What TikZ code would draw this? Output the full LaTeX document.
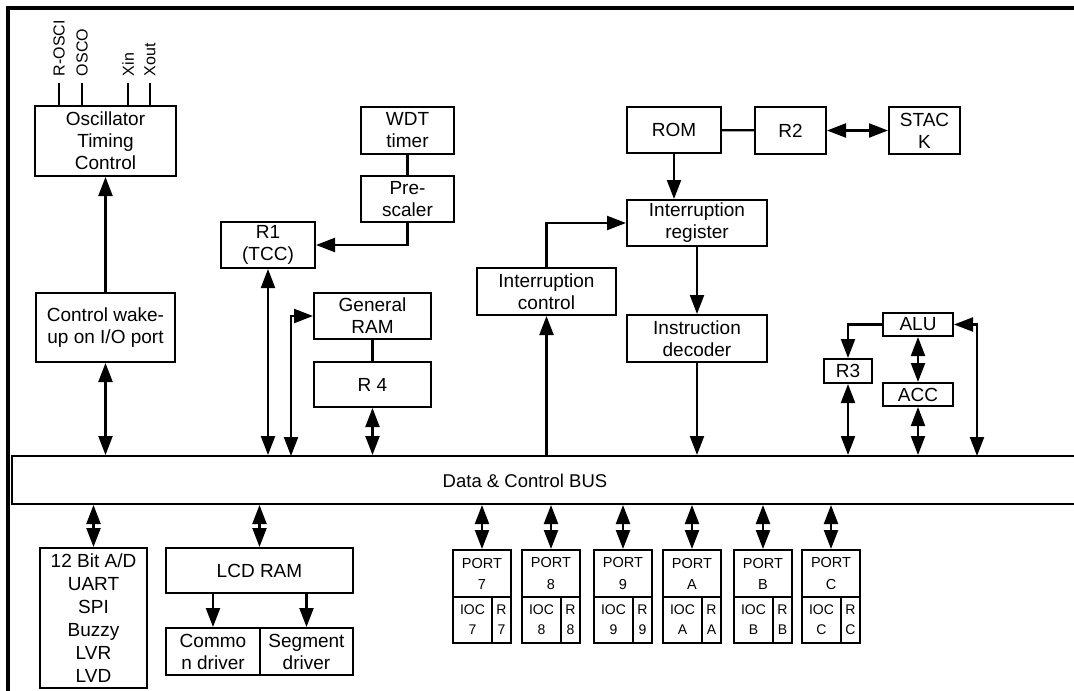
\documentclass[tikz,border=0pt]{standalone}
\usepackage{fontspec}
\setmainfont{Liberation Sans}
\usetikzlibrary{arrows.meta,positioning}
\tikzset{
  >={Triangle[length=19pt,width=14pt]},
  blk/.style={draw,line width=2pt,inner sep=0pt,align=center,
    font=\fontsize{19}{22}\selectfont},
  sz/.style 2 args={minimum width=#1pt,minimum height=#2pt},
  prt/.style={blk,font=\fontsize{14.5}{21}\selectfont},
  ioc/.style={blk,font=\fontsize{14}{20}\selectfont},
  pinlbl/.style={rotate=90,anchor=west,inner sep=0pt,outer sep=7pt,
    font=\fontsize{16}{18}\selectfont},
  flow/.style={line width=2.2pt},
  frame/.style={line width=3.5pt},
}
\begin{document}
\begin{tikzpicture}[x=1pt,y=-1pt]
  \useasboundingbox (0,0) rectangle (1074,691);
  \draw[frame] (1080,8) -- (8,8) -- (8,700);
  % clock side
  \node[blk,sz={141}{70}] (osc) at (105.5,141) {Oscillator\\Timing\\Control};
  \foreach \px/\nm/\txt in {59/rosci/R-OSCI,82/osco/OSCO,128/xin/Xin,150/xout/Xout}{
    \node[pinlbl] (\nm) at (\px,83) {\txt};
    \draw[flow] (osc.north -| \nm.west) -- (\nm.west);
  }
  \node[blk,sz={139}{69}] (wake) at (105.5,327.5) {Control wake-\\up on I/O port};
  % timer, RAM
  \node[blk,sz={93}{47}] (wdt) at (407.5,130.5) {WDT\\timer};
  \node[blk,sz={93}{46}] (pre) at (407.5,199) {Pre-\\scaler};
  \node[blk,sz={94}{46}] (r1) at (268,245) {R1\\(TCC)};
  \node[blk,sz={117}{46}] (gram) at (372.5,316) {General\\RAM};
  \node[blk,sz={117}{45}] (r4) at (372.5,384.5) {R 4};
  % program side
  \node[blk,sz={139}{47}] (ictl) at (546.5,291.5) {Interruption\\control};
  \node[blk,sz={94}{46}] (rom) at (674,130) {ROM};
  \node[blk,sz={71}{47}] (r2) at (790.5,130.5) {R2};
  \node[blk,sz={71}{47}] (stack) at (924.5,130.5) {STAC\\K};
  \node[blk,sz={140}{46}] (ireg) at (697,223) {Interruption\\register};
  \node[blk,sz={140}{47}] (idec) at (697,338.5) {Instruction\\decoder};
  \node[blk,sz={70}{23}] (alu) at (918,324.5) {ALU};
  \node[blk,sz={48}{24}] (r3) at (848,371) {R3};
  \node[blk,sz={70}{23}] (acc) at (918,394.5) {ACC};
  % bus
  \node[blk,sz={1073}{48}] (bus) at (548.5,480) {};
  \node[font=\fontsize{18.5}{20}\selectfont] (buslbl) at (525,481) {Data \& Control BUS};
  % peripherals
  \node[blk,sz={107}{140},font=\fontsize{19}{23}\selectfont] (ad) at (93.5,618)
    {12 Bit A/D\\UART\\SPI\\Buzzy\\LVR\\LVD};
  \node[blk,sz={187}{45}] (lcd) at (259.5,570.5) {LCD RAM};
  \node[blk,sz={94}{47}] (com) at (213,651.5) {Commo\\n driver};
  \node[blk,sz={93}{47}] (seg) at (306.5,651.5) {Segment\\driver};
  \foreach \lx/\p in {453/7,522/8,594/9,663/A,734/B,802/C}{
    \node[prt,sz={58}{47}] (port\p) at (\lx+29,573.5) {PORT\\\p};
    \node[ioc,sz={39}{46}] (ioc\p) at (\lx+19.5,620) {IOC\\\p};
    \node[ioc,sz={19}{46}] (rr\p) at (\lx+48.5,620) {R\\\p};
    \draw[flow,<->] (bus.south -| port\p) -- (port\p.north);
  }
  % connectors
  \draw[flow,->] (wake) -- (osc);
  \draw[flow,<->] (wake) -- (wake |- bus.north);
  \draw[flow] (wdt) -- (pre);
  \draw[flow,->] (pre.south) |- (r1.east);
  \draw[flow,<->] (r1.south) -- (r1.south |- bus.north);
  \coordinate (gtap) at (291,456);
  \draw[flow,<->] (gtap) |- (gram.west);
  \draw[flow] (gram) -- (r4);
  \draw[flow,<->] (r4.south) -- (r4.south |- bus.north);
  \draw[flow,->] (ictl.south |- bus.north) -- (ictl.south);
  \draw[flow,->] (ictl.north) |- (ireg.west);
  \draw[flow] (rom) -- (r2);
  \draw[flow,<->] (r2) -- (stack);
  \draw[flow,->] (rom.south) -- (rom.south |- ireg.north);
  \draw[flow,->] (ireg) -- (idec);
  \draw[flow,->] (idec.south) -- (idec.south |- bus.north);
  \draw[flow,->] (alu.west) -| (r3.north);
  \draw[flow,<->] (alu) -- (acc);
  \draw[flow,<->] (r3.south) -- (r3.south |- bus.north);
  \draw[flow,<->] (acc.south) -- (acc.south |- bus.north);
  \coordinate (atap) at (977,456);
  \draw[flow,<->] (atap) |- (alu.east);
  \draw[flow,<->] (bus.south -| ad) -- (ad.north);
  \draw[flow,<->] (bus.south -| lcd) -- (lcd.north);
  \draw[flow,->] (lcd.south -| com) -- (com.north);
  \draw[flow,->] (lcd.south -| seg) -- (seg.north);
\end{tikzpicture}
\end{document}
